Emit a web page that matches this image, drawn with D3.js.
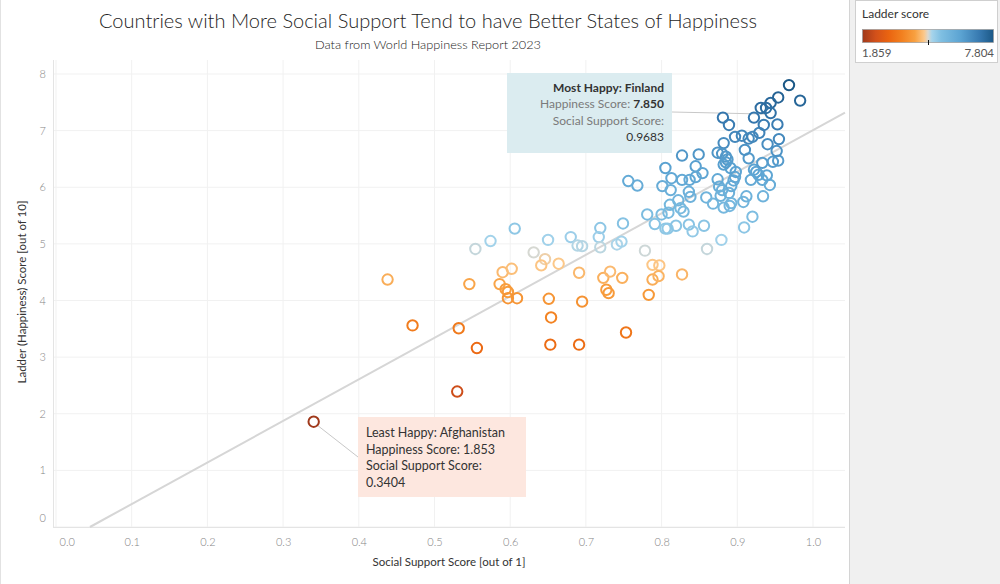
<!DOCTYPE html>
<html><head><meta charset="utf-8">
<script src="https://cdn.jsdelivr.net/npm/d3@7"></script>
<style>body{margin:0;background:#fff;} svg{display:block;font-family:Lato,"Open Sans",sans-serif;}</style>
</head><body><svg id="c" width="1000" height="584"></svg>
<script>
const socialSupport = [0.3404,0.530,0.438,0.471,0.532,0.556,0.546,0.554,0.574,0.590,0.602,0.586,0.594,0.597,0.597,0.609,0.606,0.631,0.646,0.641,0.664,0.650,0.651,0.654,0.653,0.691,0.695,0.691,0.680,0.689,0.695,0.719,0.717,0.719,0.723,0.732,0.727,0.730,0.748,0.753,0.749,0.741,0.747,0.778,0.788,0.797,0.788,0.796,0.783,0.827,0.791,0.805,0.808,0.819,0.836,0.841,0.856,0.909,0.879,0.860,0.920,0.781,0.800,0.809,
0.859,0.868,0.876,0.880,0.878,0.874,0.889,0.882,0.890,0.892,0.908,0.912,0.934,0.892,0.895,0.897,0.898,0.891,0.918,0.933,0.943,0.922,0.925,0.928,0.939,0.933,0.947,0.954,0.952,0.940,0.915,0.910,0.882,0.874,0.880,0.885,0.887,0.882,0.885,0.849,0.827,0.805,0.845,0.854,0.813,0.827,0.837,0.845,0.801,0.812,0.756,0.768,0.836,0.838,0.822,0.811,0.825,0.829,
0.9683,0.983,0.954,0.944,0.938,0.931,0.944,0.922,0.881,0.889,0.935,0.953,0.929,0.920,0.915,0.906,0.897,0.955];
const ladder = [1.859,2.392,4.37,3.56,3.51,3.16,4.29,4.91,5.05,4.50,4.56,4.29,4.20,4.15,4.04,4.04,5.27,4.85,4.73,4.62,4.65,5.07,4.03,3.70,3.22,3.22,3.98,4.49,5.12,4.97,4.96,5.28,5.12,4.94,4.40,4.51,4.19,4.13,4.40,3.435,5.36,4.99,5.04,4.88,4.63,4.62,4.37,4.43,4.10,4.46,5.35,5.27,5.27,5.32,5.34,5.22,5.32,5.29,5.07,4.91,5.48,5.52,5.52,5.55,
5.82,5.71,6.01,5.95,5.85,6.14,5.90,5.64,5.67,5.72,5.74,5.84,5.84,6.02,6.12,6.18,6.27,6.34,6.13,6.13,6.04,6.31,6.27,6.22,6.21,6.43,6.45,6.47,6.64,6.76,6.51,6.66,6.78,6.61,6.59,6.54,6.49,6.40,6.44,6.58,6.56,6.34,6.37,6.25,6.16,6.13,6.13,6.18,6.02,5.95,6.11,6.03,5.92,5.83,5.77,5.69,5.63,5.57,
7.804,7.530,7.586,7.49,7.40,7.40,7.31,7.23,7.23,7.10,7.10,7.11,6.96,6.89,6.86,6.91,6.89,6.85];
const xTicks = [0,0.1,0.2,0.3,0.4,0.5,0.6,0.7,0.8,0.9,1.0];
const yTicks = [0,1,2,3,4,5,6,7,8];
const legendRange = [1.859, 7.804];
const paletteStops = [0,0.1,0.2,0.3,0.4,0.47,0.5,0.53,0.6,0.75,0.9,1];
const paletteColors = ["#a0391b","#d2501a","#ea6410","#f2801f","#f8a040","#fcc88a","#dcd8cf","#a6d4eb","#7fbfe2","#5ba3d2","#3577ae","#1b5886"];
const mostHappy = {name:"Finland", score:"7.850", support:"0.9683", idx:128};
const leastHappy = {name:"Afghanistan", score:"1.853", support:"0.3404", idx:0};

const svg = d3.select("#c");
const L=53, R=845, T=60, B=527;
const x = d3.scaleLinear().domain([0,1]).range([56,813]);
const y = d3.scaleLinear().domain([0,8]).range([B,74]);
const color = d3.scaleLinear()
  .domain(paletteStops.map(t => legendRange[0] + t*(legendRange[1]-legendRange[0])))
  .range(paletteColors).clamp(true);

// right panel
svg.append("rect").attr("x",849).attr("y",0).attr("width",151).attr("height",584).attr("fill","#f0f0f0");
svg.append("line").attr("x1",849.5).attr("x2",849.5).attr("y1",0).attr("y2",584).attr("stroke","#d4d4d4");
svg.append("line").attr("x1",0.5).attr("x2",0.5).attr("y1",0).attr("y2",584).attr("stroke","#e2e2e2");

// gridlines
const g = svg.append("g");
g.selectAll(".vg").data(xTicks).join("line").attr("x1",d=>x(d)).attr("x2",d=>x(d)).attr("y1",T).attr("y2",B).attr("stroke","#f1f1f1");
g.selectAll(".hg").data(yTicks).join("line").attr("x1",L).attr("x2",R).attr("y1",d=>y(d)).attr("y2",d=>y(d)).attr("stroke","#f1f1f1");
svg.append("line").attr("x1",L+0.5).attr("x2",L+0.5).attr("y1",T).attr("y2",B).attr("stroke","#e4e4e4");
svg.append("line").attr("x1",L).attr("x2",R).attr("y1",B+0.5).attr("y2",B+0.5).attr("stroke","#e4e4e4");

// axes
const xa = svg.append("g").attr("transform",`translate(0,${B+8})`)
  .call(d3.axisBottom(x).tickValues(xTicks).tickFormat(d3.format(".1f")).tickSize(0));
xa.select(".domain").remove();
xa.selectAll("text").attr("fill","#858585").style("font-size","11px").style("font-family","Lato").style("font-weight","300");
xa.selectAll(".tick").filter(d=>d===0).select("text").attr("text-anchor","start").attr("x",3);
const ya = svg.append("g").attr("transform",`translate(${L-4},0)`)
  .call(d3.axisLeft(y).tickValues(yTicks).tickFormat(d3.format("d")).tickSize(0));
ya.select(".domain").remove();
ya.selectAll("text").attr("fill","#858585").style("font-size","11px").style("font-family","Lato").style("font-weight","300");
ya.selectAll(".tick").filter(d=>d===0).select("text").attr("y",-9);

svg.append("text").attr("x",449).attr("y",566).attr("text-anchor","middle").attr("fill","#333")
  .style("font-size","11.5px").text("Social Support Score [out of 1]");
svg.append("text").attr("transform","translate(26,292) rotate(-90)").attr("text-anchor","middle").attr("fill","#333")
  .style("font-size","11.5px").text("Ladder (Happiness) Score [out of 10]");

// title
svg.append("text").attr("x",428).attr("y",28).attr("text-anchor","middle").attr("fill","#1e1e1e")
  .style("font-size","20px").style("font-weight","300").attr("textLength",658).attr("lengthAdjust","spacingAndGlyphs")
  .text("Countries with More Social Support Tend to have Better States of Happiness");
svg.append("text").attr("x",428).attr("y",49).attr("text-anchor","middle").attr("fill","#222")
  .style("font-size","12px").style("font-weight","300").attr("textLength",226).attr("lengthAdjust","spacingAndGlyphs")
  .text("Data from World Happiness Report 2023");

// trend line (least squares)
const n = socialSupport.length;
const mx = d3.mean(socialSupport), my = d3.mean(ladder);
let sxy=0,sxx=0;
for(let i=0;i<n;i++){sxy+=(socialSupport[i]-mx)*(ladder[i]-my);sxx+=(socialSupport[i]-mx)**2;}
const slope = sxy/sxx, icpt = my - slope*mx;
const x0 = -icpt/slope, x1 = x.invert(R);
svg.append("line").attr("x1",x(x0)).attr("y1",y(0)).attr("x2",x(x1)).attr("y2",y(icpt+slope*x1))
  .attr("stroke","#d6d6d6").attr("stroke-width",2);

// connector lines
const fx = x(socialSupport[mostHappy.idx]), fy = y(ladder[mostHappy.idx]);
svg.append("line").attr("x1",672).attr("y1",112).attr("x2",fx-5).attr("y2",fy+1).attr("stroke","#c8c8c8");
const ax = x(socialSupport[leastHappy.idx]), ay = y(ladder[leastHappy.idx]);
svg.append("line").attr("x1",ax+3).attr("y1",ay+3).attr("x2",358).attr("y2",457).attr("stroke","#c8c8c8");

// points
const idx = d3.range(n);
svg.append("g").selectAll("circle").data(idx).join("circle")
  .attr("cx",i=>x(socialSupport[i])).attr("cy",i=>y(ladder[i])).attr("r",5.2)
  .attr("fill","none").attr("stroke",i=>color(ladder[i])).attr("stroke-width",2);

// annotation boxes
svg.append("rect").attr("x",507).attr("y",73).attr("width",165).attr("height",80).attr("fill","#dbecf0");
const t1 = svg.append("text").attr("text-anchor","end").style("font-size","12px");
t1.append("tspan").attr("x",664).attr("y",92).attr("fill","#333").style("font-weight","bold").text(`Most Happy: ${mostHappy.name}`);
const l2 = t1.append("tspan").attr("x",664).attr("y",108);
l2.append("tspan").attr("fill","#7a7a7a").text("Happiness Score: ");
l2.append("tspan").attr("fill","#333").style("font-weight","bold").text(mostHappy.score);
t1.append("tspan").attr("x",664).attr("y",125).attr("fill","#7a7a7a").text("Social Support Score:");
t1.append("tspan").attr("x",664).attr("y",141).attr("fill","#333").text(mostHappy.support);

svg.append("rect").attr("x",358).attr("y",417).attr("width",168).attr("height",80).attr("fill","#fde7df");
const t2 = svg.append("text").attr("fill","#333").style("font-size","12.5px");
t2.append("tspan").attr("x",366).attr("y",437).text(`Least Happy: ${leastHappy.name}`);
t2.append("tspan").attr("x",366).attr("y",454).text(`Happiness Score: ${leastHappy.score}`);
t2.append("tspan").attr("x",366).attr("y",470).text("Social Support Score:");
t2.append("tspan").attr("x",366).attr("y",487).text(leastHappy.support);

// legend
svg.append("rect").attr("x",855.5).attr("y",0.5).attr("width",142).attr("height",62).attr("fill","#fff").attr("stroke","#cfcfcf");
svg.append("text").attr("x",862).attr("y",18).attr("fill","#333").style("font-size","12px").text("Ladder score");
const grad = svg.append("defs").append("linearGradient").attr("id","lg");
paletteStops.forEach((t,i)=>grad.append("stop").attr("offset",t).attr("stop-color",paletteColors[i]));
svg.append("rect").attr("x",862.5).attr("y",29.5).attr("width",131).attr("height",13).attr("fill","url(#lg)").attr("stroke","#9a9a9a").attr("stroke-width",0.7);
svg.append("line").attr("x1",928.5).attr("x2",928.5).attr("y1",40).attr("y2",45).attr("stroke","#111");
svg.append("text").attr("x",862).attr("y",57).attr("fill","#555").style("font-size","11.5px").text(d3.format(".3f")(legendRange[0]));
svg.append("text").attr("x",994).attr("y",57).attr("text-anchor","end").attr("fill","#555").style("font-size","11.5px").text(d3.format(".3f")(legendRange[1]));
</script></body></html>
